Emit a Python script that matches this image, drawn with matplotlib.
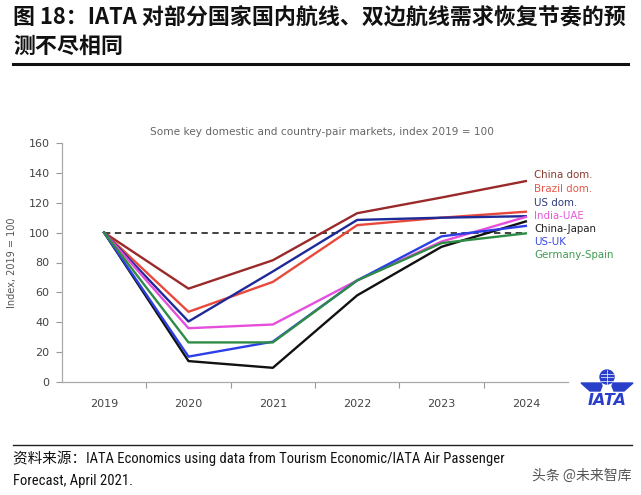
import matplotlib

matplotlib.use("Agg")
import matplotlib.pyplot as plt
from matplotlib import font_manager
from matplotlib.lines import Line2D
from matplotlib.patches import Circle, Polygon

plt.rcParams["font.family"] = ["DejaVu Sans"]

YEARS = [2019, 2020, 2021, 2022, 2023, 2024]

SERIES = ["China dom.", "Brazil dom.", "US dom.", "India-UAE", "China-Japan", "US-UK", "Germany-Spain"]
CHINA_DOM = [100, 62.5, 81.5, 113, 123.5, 134.5]
BRAZIL_DOM = [100, 47, 67, 105, 110, 114]
US_DOM = [100, 40.5, 74, 108.5, 110, 111]
INDIA_UAE = [100, 36, 38.5, 68, 94, 110.5]
CHINA_JAPAN = [100, 14, 9.5, 58, 90.5, 107.5]
US_UK = [100, 17, 27, 68, 97.5, 104.5]
GERMANY_SPAIN = [100, 26.5, 26.5, 68, 93, 99.5]
BASELINE = 100

COLORS = ["#9a2a2a", "#e8493b", "#1e2a98", "#e64fdc", "#111111", "#2c3fe6", "#2f8c46"]
LABEL_COLORS = ["#8a3a32", "#e8584b", "#2b3a7a", "#e45ad8", "#222222", "#3a4ae0", "#3f9a52"]

CJK = ["Noto Sans CJK SC", "DejaVu Sans"]

names = {f.name for f in font_manager.fontManager.ttflist}
narrow = [n for n in ["Liberation Sans Narrow", "Roboto Condensed", "Open Sans Condensed"] if n in names]

fig = plt.figure(figsize=(6.41, 4.95), dpi=100)

# header
fig.text(13 / 641, 1 - 18 / 495, "图 18：IATA 对部分国家国内航线、双边航线需求恢复节奏的预",
         family=CJK, fontsize=15.8, fontweight="bold", ha="left", va="center", color="#111111")
fig.text(13 / 641, 1 - 46 / 495, "测不尽相同",
         family=CJK, fontsize=15.8, fontweight="bold", ha="left", va="center", color="#111111")
fig.add_artist(Line2D([13 / 641, 628 / 641], [1 - 64 / 495, 1 - 64 / 495], color="#111111", lw=2.2))

# chart
ax = fig.add_axes([62 / 641, 1 - 382 / 495, (568 - 62) / 641, (382 - 143) / 495])
all_series = [CHINA_DOM, BRAZIL_DOM, US_DOM, INDIA_UAE, CHINA_JAPAN, US_UK, GERMANY_SPAIN]
ax.plot([YEARS[0], YEARS[-1]], [BASELINE, BASELINE], color="#333333", lw=1.3, ls=(0, (3.5, 2.5)), zorder=1)
draw_order = [6, 5, 4, 3, 1, 2, 0]
for i in draw_order:
    ax.plot(YEARS, all_series[i], color=COLORS[i], lw=1.7, zorder=2 + i * 0.1)

ax.set_xlim(2018.5, 2024.5)
ax.set_ylim(0, 160)
ax.set_yticks(range(0, 161, 20))
ax.set_xticks([y + 0.5 for y in YEARS[:-1]])
ax.set_xticklabels([])
ax.set_xticks(YEARS, minor=True)
ax.set_xticklabels([str(y) for y in YEARS], minor=True)
ax.tick_params(axis="x", which="major", length=4, color="#999999", direction="out")
ax.tick_params(axis="x", which="minor", length=0, pad=12, labelsize=8, labelcolor="#444444")
ax.tick_params(axis="y", length=4, color="#999999", labelsize=8, labelcolor="#444444", pad=5)
for side in ["top", "right"]:
    ax.spines[side].set_visible(False)
for side in ["left", "bottom"]:
    ax.spines[side].set_color("#aaaaaa")
    ax.spines[side].set_linewidth(0.9)
ax.set_ylabel("Index, 2019 = 100", fontsize=7, color="#555555", labelpad=8)

fig.text(322 / 641, 1 - 132 / 495, "Some key domestic and country-pair markets, index 2019 = 100",
         fontsize=7.6, color="#666666", ha="center", va="center")

# labels at the right
label_y = [175, 189, 203, 216, 229, 242, 255]
for name, c, py in zip(SERIES, LABEL_COLORS, label_y):
    fig.text(534 / 641, 1 - py / 495, name, fontsize=7.4, color=c, ha="left", va="center")

# IATA logo
logo = fig.add_axes([580 / 641, 1 - 408 / 495, 54 / 641, 40 / 495])
logo.set_xlim(0, 54)
logo.set_ylim(0, 40)
logo.axis("off")
blue = "#2a3fc9"
logo.add_patch(Circle((27, 31), 7, color=blue))
for yy in [27.5, 31, 34.5]:
    logo.plot([21, 33], [yy, yy], color="white", lw=0.5)
logo.plot([27, 27], [24.3, 37.7], color="white", lw=0.5)
logo.add_patch(Polygon([[1, 25], [21, 25], [22, 22], [20, 17], [10, 17]], color=blue))
logo.add_patch(Polygon([[53, 25], [33, 25], [32, 22], [34, 17], [44, 17]], color=blue))
logo.text(27, 7.5, "IATA", fontsize=11.5, fontweight="bold", style="italic", color=blue,
          ha="center", va="center")

# footer
fig.add_artist(Line2D([13 / 641, 632 / 641], [1 - 445 / 495, 1 - 445 / 495], color="#222222", lw=1.0))
src = narrow[:1] + ["Noto Sans CJK SC", "DejaVu Sans"]
src_size = 10.5 if narrow else 10.2
fig.text(13 / 641, 1 - 458 / 495, "资料来源：IATA Economics using data from Tourism Economic/IATA Air Passenger",
         family=src, fontsize=src_size, color="#111111", ha="left", va="center")
fig.text(13 / 641, 1 - 481 / 495, "Forecast, April 2021.",
         family=src, fontsize=src_size, color="#111111", ha="left", va="center")
fig.text(632 / 641, 1 - 476 / 495, "头条 @未来智库", family=CJK, fontsize=10, color="#555555",
         ha="right", va="center")

fig.savefig("out.png", dpi=100)
